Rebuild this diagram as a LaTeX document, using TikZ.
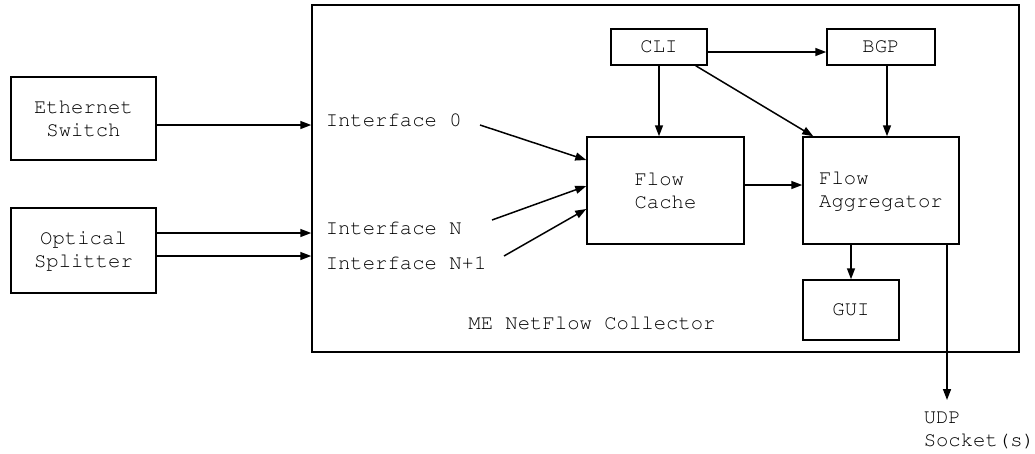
\documentclass[tikz,border=0pt]{standalone}
\usepackage[T1]{fontenc}
\usepackage{courier}
\usetikzlibrary{arrows.meta}
\begin{document}
\begin{tikzpicture}[x=1pt,y=-1pt,
  font=\ttfamily\fontsize{20.6}{23}\selectfont,
  line width=1.5pt,
  box/.style={draw, inner sep=0pt, align=center},
  lbl/.style={inner sep=0pt, anchor=west},
  arr/.style={-{Triangle[length=11pt,width=8pt]}}]
\useasboundingbox (0,0) rectangle (1035,453);
% boxes
\node[box, minimum width=145pt, minimum height=83pt] (eth) at (83.5,118.5) {Ethernet\\Switch};
\node[box, minimum width=145pt, minimum height=85pt] (opt) at (83.5,250.5) {Optical\\Splitter};
\node[box, minimum width=707pt, minimum height=347pt] (col) at (665.5,178.5) {};
\node[box, minimum width=96pt, minimum height=36pt] (cli) at (659,47) {CLI};
\node[box, minimum width=108pt, minimum height=36pt] (bgp) at (881,47) {BGP};
\node[box, minimum width=157pt, minimum height=107pt, align=left] (fc) at (665.5,190.5) {Flow\\Cache};
\node[box, minimum width=156pt, minimum height=107pt, align=left] (fa) at (881,190.5) {Flow\\Aggregator};
\node[box, minimum width=96pt, minimum height=60pt] (gui) at (851,310) {GUI};
% labels
\node[lbl] (if0) at (325,120) {Interface 0};
\node[lbl] (ifn) at (325,228) {Interface N};
\node[lbl] (ifn1) at (325,263) {Interface N+1};
\node[inner sep=0pt] (coltext) at (592,323) {ME NetFlow Collector};
\node[inner sep=0pt, anchor=north west, align=left] (udp) at (923,411) {UDP\\Socket(s)};
% free ends
\coordinate (s0) at (480,125);
\coordinate (s1) at (492,220);
\coordinate (s2) at (504,256);
\coordinate (ue) at (947,400);
% connectors
\draw[arr] ([yshift=-6.5pt]eth.east) -- ([yshift=-6.5pt]eth.east -| col.west);
\draw[arr] ([yshift=17.5pt]opt.east) -- ([yshift=17.5pt]opt.east -| col.west);
\draw[arr] ([yshift=-5.5pt]opt.east) -- ([yshift=-5.5pt]opt.east -| col.west);
\draw[arr] (s0) -- ([yshift=30.5pt]fc.west);
\draw[arr] (s1) -- ([yshift=4.5pt]fc.west);
\draw[arr] (s2) -- ([yshift=-18.5pt]fc.west);
\draw[arr] ([yshift=-5pt]cli.east) -- ([yshift=-5pt]bgp.west);
\draw[arr] (cli.south) -- (cli.south |- fc.north);
\draw[arr] ([xshift=-12pt]cli.south east) -- ([xshift=11pt]fa.north west);
\draw[arr] ([xshift=6pt]bgp.south) -- ([xshift=6pt]bgp.south |- fa.north);
\draw[arr] ([yshift=5.5pt]fc.east) -- ([yshift=5.5pt]fa.west);
\draw[arr] (gui.north |- fa.south) -- (gui.north);
\draw[arr] (ue |- fa.south) -- (ue);
\end{tikzpicture}
\end{document}
